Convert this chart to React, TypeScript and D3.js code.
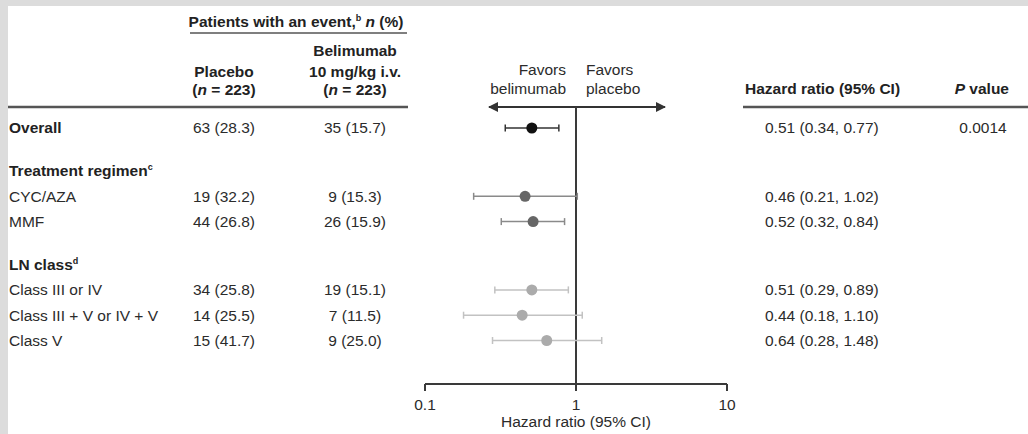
import React from "react";
import * as d3 from "d3";

// subgroup rows (order as drawn)
const subgroups = ["Overall", "CYC/AZA", "MMF", "Class III or IV", "Class III + V or IV + V", "Class V"];
const groupOf = ["overall", "regimen", "regimen", "class", "class", "class"];
const placeboN = [63, 19, 44, 34, 14, 15];
const placeboPct = [28.3, 32.2, 26.8, 25.8, 25.5, 41.7];
const belimumabN = [35, 9, 26, 19, 7, 9];
const belimumabPct = [15.7, 15.3, 15.9, 15.1, 11.5, 25.0];
const hr = [0.51, 0.46, 0.52, 0.51, 0.44, 0.64];
const ciLow = [0.34, 0.21, 0.32, 0.29, 0.18, 0.28];
const ciHigh = [0.77, 1.02, 0.84, 0.89, 1.1, 1.48];
const pValues = ["0.0014", "", "", "", "", ""];

const sectionTitles = ["Treatment regimen", "LN class"];
const sectionSups = ["c", "d"];
const axisTicks = [0.1, 1, 10];

// layout (row slots)
const rowSlot = [0, 2.7, 3.7, 6.4, 7.4, 8.4];
const sectionSlot = [1.7, 5.4];

const W = 1028;
const H = 434;
const FONT = "'Liberation Sans', Arial, Helvetica, sans-serif";
const FS = 15.5;

const style: Record<string, { dot: string; line: string; r: number }> = {
  overall: { dot: "#111", line: "#333", r: 5.5 },
  regimen: { dot: "#666", line: "#8a8a8a", r: 5.5 },
  class: { dot: "#ababab", line: "#c2c2c2", r: 5.5 },
};

export default function App() {
  const x = d3.scaleLog().domain([0.1, 10]).range([425, 727]);
  const y = d3.scaleLinear().domain([0, 8.4]).range([128, 340.5]);
  const axisY = 384;
  const arrowY = 107;
  const x1 = x(1);

  const colPlacebo = 224;
  const colBeli = 355;
  const colHR = 765;
  const colP = 983;

  const txt = { fontFamily: FONT, fontSize: FS, fill: "#2b2b2b" } as const;
  const bold = { ...txt, fontWeight: 700, fill: "#222" } as const;

  const fmt = (n: number, p: number) => `${n} (${p.toFixed(1)})`;
  const fmtHr = (i: number) =>
    `${hr[i].toFixed(2)} (${ciLow[i].toFixed(2)}, ${ciHigh[i].toFixed(2)})`;

  return (
    <svg
      width={W}
      height={H}
      style={{ position: "absolute", left: 0, top: 0, display: "block" }}
    >
      <defs>
        <marker id="ah" viewBox="0 0 10 10" refX="9" refY="5" markerWidth="5" markerHeight="5" orient="auto-start-reverse">
          <path d="M0,0 L10,5 L0,10 z" fill="#333" />
        </marker>
      </defs>
      <rect width={W} height={H} fill="#dcdcdc" />
      <rect x={8} y={6} width={W - 8} height={H - 6} fill="#fff" />

      {/* column headers */}
      <text x={296} y={22} dy="0.35em" textAnchor="middle" {...bold}>
        Patients with an event,
        <tspan fontSize={9} dy="-6">b</tspan>
        <tspan dy="6"> </tspan>
        <tspan fontStyle="italic">n</tspan> (%)
      </text>
      <line x1={190} x2={407} y1={33} y2={33} stroke="#555" strokeWidth={1.5} />
      <text x={colPlacebo} y={72} dy="0.35em" textAnchor="middle" {...bold}>Placebo</text>
      <text x={colPlacebo} y={90} dy="0.35em" textAnchor="middle" {...bold}>
        (<tspan fontStyle="italic">n</tspan> = 223)
      </text>
      <text x={colBeli} y={51} dy="0.35em" textAnchor="middle" {...bold}>Belimumab</text>
      <text x={colBeli} y={72} dy="0.35em" textAnchor="middle" {...bold}>10 mg/kg i.v.</text>
      <text x={colBeli} y={90} dy="0.35em" textAnchor="middle" {...bold}>
        (<tspan fontStyle="italic">n</tspan> = 223)
      </text>
      <line x1={8} x2={408} y1={107} y2={107} stroke="#555" strokeWidth={2.5} />

      <text x={745} y={89} dy="0.35em" {...bold}>Hazard ratio (95% CI)</text>
      <text x={1009} y={89} dy="0.35em" textAnchor="end" {...bold}>
        <tspan fontStyle="italic">P</tspan> value
      </text>
      <line x1={743} x2={W} y1={107} y2={107} stroke="#555" strokeWidth={2.5} />

      {/* favors labels + arrow */}
      <text x={566} y={70} dy="0.35em" textAnchor="end" {...txt}>Favors</text>
      <text x={566} y={89} dy="0.35em" textAnchor="end" {...txt}>belimumab</text>
      <text x={586} y={70} dy="0.35em" {...txt}>Favors</text>
      <text x={586} y={89} dy="0.35em" {...txt}>placebo</text>
      <line
        x1={489}
        x2={665}
        y1={arrowY}
        y2={arrowY}
        stroke="#333"
        strokeWidth={2}
        markerStart="url(#ah)"
        markerEnd="url(#ah)"
      />
      <line x1={x1} x2={x1} y1={arrowY} y2={axisY} stroke="#3a3a3a" strokeWidth={2} />

      {/* section titles */}
      {sectionTitles.map((t, i) => (
        <text key={t} x={9} y={y(sectionSlot[i])} dy="0.35em" {...bold}>
          {t}
          <tspan fontSize={9} dy="-6">{sectionSups[i]}</tspan>
        </text>
      ))}

      {/* rows */}
      {subgroups.map((s, i) => {
        const cy = y(rowSlot[i]);
        const st = style[groupOf[i]];
        const isOverall = groupOf[i] === "overall";
        return (
          <g key={s}>
            <text x={9} y={cy} dy="0.35em" {...(isOverall ? bold : txt)}>{s}</text>
            <text x={colPlacebo} y={cy} dy="0.35em" textAnchor="middle" {...txt}>
              {fmt(placeboN[i], placeboPct[i])}
            </text>
            <text x={colBeli} y={cy} dy="0.35em" textAnchor="middle" {...txt}>
              {fmt(belimumabN[i], belimumabPct[i])}
            </text>
            <text x={colHR} y={cy} dy="0.35em" {...txt}>{fmtHr(i)}</text>
            {pValues[i] && (
              <text x={colP} y={cy} dy="0.35em" textAnchor="middle" {...txt}>{pValues[i]}</text>
            )}
            <line x1={x(ciLow[i])} x2={x(ciHigh[i])} y1={cy} y2={cy} stroke={st.line} strokeWidth={1.5} />
            <line x1={x(ciLow[i])} x2={x(ciLow[i])} y1={cy - 3.5} y2={cy + 3.5} stroke={st.line} strokeWidth={1.5} />
            <line x1={x(ciHigh[i])} x2={x(ciHigh[i])} y1={cy - 3.5} y2={cy + 3.5} stroke={st.line} strokeWidth={1.5} />
            <circle cx={x(hr[i])} cy={cy} r={st.r} fill={st.dot} />
          </g>
        );
      })}

      {/* x axis */}
      <line x1={x(0.1)} x2={x(10)} y1={axisY} y2={axisY} stroke="#3a3a3a" strokeWidth={2} />
      {axisTicks.map((t) => (
        <g key={t}>
          <line x1={x(t)} x2={x(t)} y1={axisY} y2={axisY + 7} stroke="#3a3a3a" strokeWidth={2} />
          <text x={x(t)} y={405} dy="0.35em" textAnchor="middle" {...txt}>{String(t)}</text>
        </g>
      ))}
      <text x={x1} y={422} dy="0.35em" textAnchor="middle" {...txt}>Hazard ratio (95% CI)</text>
    </svg>
  );
}
